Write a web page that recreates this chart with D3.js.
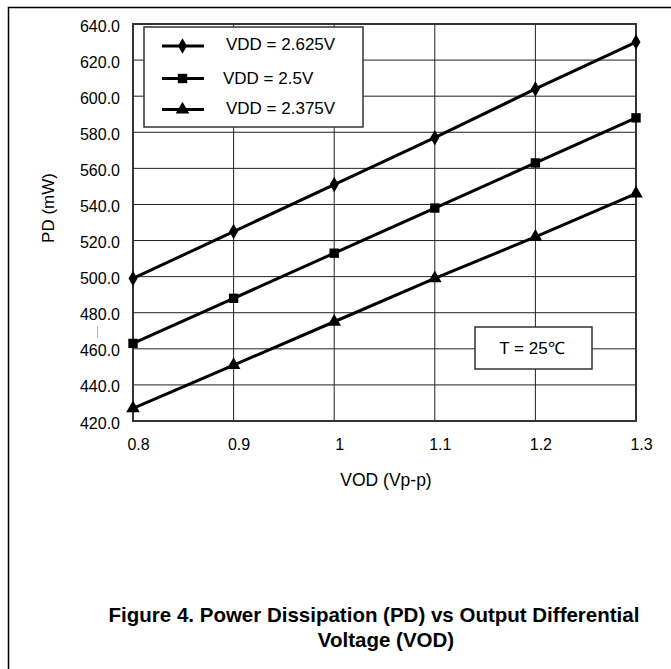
<html>

<head>
    <meta charset="UTF-8">
    <script src="https://d3js.org/d3.v7.min.js"></script>
    <style>
        body { margin: 0; background: #fff; }
        text { font-family: "Liberation Sans", Arial, sans-serif; }
    </style>
</head>

<body>

</body>
<script>
    // data
    var vod = [0.8, 0.9, 1.0, 1.1, 1.2, 1.3];
    var pdHigh = [499, 525, 551, 577, 604, 630];   // VDD = 2.625V
    var pdMid = [463, 488, 513, 538, 563, 588];    // VDD = 2.5V
    var pdLow = [427, 451, 475, 499, 522, 546];    // VDD = 2.375V
    var seriesNames = ["VDD = 2.625V", "VDD = 2.5V", "VDD = 2.375V"];
    var markers = ["diamond", "square", "triangle"];
    var yTicks = [420, 440, 460, 480, 500, 520, 540, 560, 580, 600, 620, 640];
    var xTicks = [0.8, 0.9, 1.0, 1.1, 1.2, 1.3];

    var series = [pdHigh, pdMid, pdLow].map(function (vals, i) {
        return {
            name: seriesNames[i],
            marker: markers[i],
            values: vals.map(function (v, j) { return { x: vod[j], y: v }; })
        };
    });

    var W = 671, H = 669;
    var margin = { top: 24, right: 35, bottom: 248, left: 133 },
        width = W - margin.left - margin.right,
        height = H - margin.top - margin.bottom;

    var svg = d3.select("body")
        .append("svg")
        .attr("width", W)
        .attr("height", H);

    // page frame (left and top edges)
    svg.append("path")
        .attr("d", "M8.5," + H + "V7.5H" + W)
        .attr("fill", "none")
        .attr("stroke", "#000")
        .attr("stroke-width", 1.5);

    var g = svg.append("g")
        .attr("transform", "translate(" + margin.left + "," + margin.top + ")");

    var x = d3.scaleLinear().domain([0.8, 1.3]).range([0, width]);
    var y = d3.scaleLinear().domain([420, 640]).range([height, 0]);

    // grid
    g.selectAll(".hgrid")
        .data(yTicks)
        .enter().append("line")
        .attr("x1", 0).attr("x2", width)
        .attr("y1", function (d) { return y(d); })
        .attr("y2", function (d) { return y(d); })
        .attr("stroke", "#222").attr("stroke-width", 1);

    g.selectAll(".vgrid")
        .data(xTicks)
        .enter().append("line")
        .attr("y1", 0).attr("y2", height)
        .attr("x1", function (d) { return x(d); })
        .attr("x2", function (d) { return x(d); })
        .attr("stroke", "#222").attr("stroke-width", 1);

    g.append("rect")
        .attr("width", width).attr("height", height)
        .attr("fill", "none")
        .attr("stroke", "#333").attr("stroke-width", 2);

    // axes (labels only)
    g.append("g")
        .attr("class", "yaxis")
        .call(d3.axisLeft(y).tickValues(yTicks).tickSize(0).tickPadding(13)
            .tickFormat(d3.format(".1f")));
    g.append("g")
        .attr("class", "xaxis")
        .attr("transform", "translate(0," + height + ")")
        .call(d3.axisBottom(x).tickValues(xTicks).tickSize(0).tickPadding(18)
            .tickFormat(function (d) { return d === 1 ? "1" : d3.format(".1f")(d); }));
    g.selectAll(".domain").remove();
    g.selectAll(".tick text")
        .attr("font-size", 16)
        .attr("font-family", "Liberation Sans, Arial, sans-serif")
        .attr("fill", "#000");
    g.selectAll(".yaxis .tick text").attr("dy", "0.44em");
    g.selectAll(".xaxis .tick text").attr("dx", 5).attr("dy", "0.71em");

    // axis titles
    svg.append("text")
        .attr("transform", "translate(54,208) rotate(-90)")
        .attr("text-anchor", "middle")
        .attr("font-size", 17)
        .text("PD (mW)");

    svg.append("text")
        .attr("x", 386).attr("y", 486)
        .attr("text-anchor", "middle")
        .attr("font-size", 17.5)
        .text("VOD (Vp-p)");

    // small blue mark left of axis
    svg.append("line")
        .attr("x1", 97.5).attr("x2", 97.5)
        .attr("y1", 326).attr("y2", 338)
        .attr("stroke", "#9db7dc").attr("stroke-width", 1);

    // markers
    function markerPath(type) {
        if (type === "diamond") return d3.symbol(d3.symbolDiamond, 70)();
        if (type === "square") return d3.symbol(d3.symbolSquare, 88)();
        return d3.symbol(d3.symbolTriangle, 80)();
    }

    var line = d3.line()
        .x(function (d) { return x(d.x); })
        .y(function (d) { return y(d.y); });

    var sg = g.selectAll(".series")
        .data(series)
        .enter().append("g");

    sg.append("path")
        .attr("d", function (d) { return line(d.values); })
        .attr("fill", "none")
        .attr("stroke", "#000")
        .attr("stroke-width", 3);

    sg.each(function (s) {
        d3.select(this).selectAll("path.pt")
            .data(s.values)
            .enter().append("path")
            .attr("class", "pt")
            .attr("transform", function (d) { return "translate(" + x(d.x) + "," + y(d.y) + ")"; })
            .attr("d", markerPath(s.marker))
            .attr("fill", "#000");
    });

    // legend
    var legend = svg.append("g")
        .attr("transform", "translate(144,27)");
    legend.append("rect")
        .attr("width", 219).attr("height", 100)
        .attr("fill", "#fff")
        .attr("stroke", "#333").attr("stroke-width", 1.5);

    var li = legend.selectAll(".li")
        .data(series)
        .enter().append("g")
        .attr("transform", function (d, i) { return "translate(0," + [19, 51.5, 82.5][i] + ")"; });
    li.append("line")
        .attr("x1", 18).attr("x2", 60)
        .attr("stroke", "#000").attr("stroke-width", 3);
    li.append("path")
        .attr("transform", "translate(38.5,0)")
        .attr("d", function (d) { return markerPath(d.marker); })
        .attr("fill", "#000");
    li.append("text")
        .attr("x", function (d, i) { return i === 1 ? 79 : 82; })
        .attr("y", function (d, i) { return [4, 5.5, 4][i]; })
        .attr("font-size", 17)
        .text(function (d) { return d.name; });

    // temperature note
    var note = svg.append("g").attr("transform", "translate(475,327)");
    note.append("rect")
        .attr("width", 117).attr("height", 42)
        .attr("fill", "#fff")
        .attr("stroke", "#333").attr("stroke-width", 1.5);
    note.append("text")
        .attr("x", 57).attr("y", 27)
        .attr("text-anchor", "middle")
        .attr("font-size", 17)
        .text("T = 25\u2103");

    // caption
    var caption = ["Figure 4. Power Dissipation (PD) vs Output Differential", "Voltage (VOD)"];
    svg.selectAll(".cap")
        .data(caption)
        .enter().append("text")
        .attr("x", function (d, i) { return [374, 386][i]; })
        .attr("y", function (d, i) { return [622, 647][i]; })
        .attr("text-anchor", "middle")
        .attr("font-size", 20.5)
        .attr("font-weight", "bold")
        .text(function (d) { return d; });
</script>

</html>
